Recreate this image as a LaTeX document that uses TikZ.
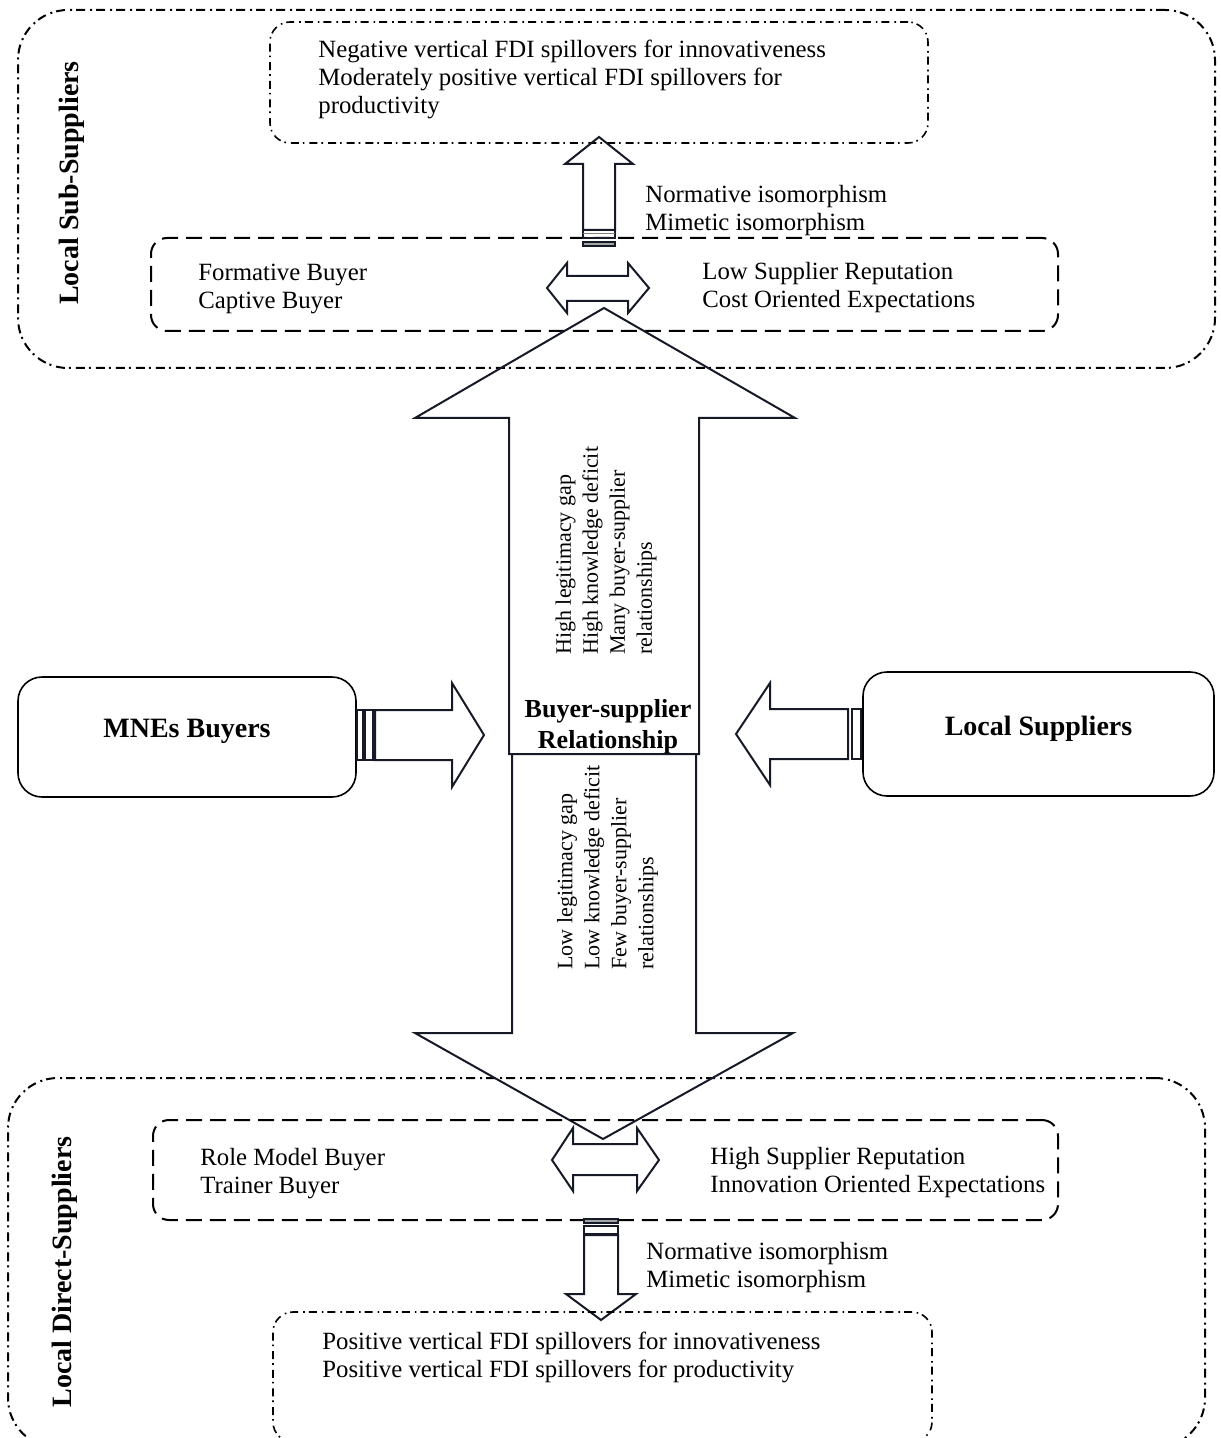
\documentclass[tikz,border=0pt]{standalone}
\usepackage{fontspec}
\setmainfont{Liberation Serif}
\definecolor{arrowline}{RGB}{22,26,38}
\tikzset{
  outerframe/.style={draw, line width=1pt, rounded corners=25pt, dash pattern=on 4.5pt off 2pt on 1pt off 2.5pt, inner sep=0pt},
  resultbox/.style={draw, line width=0.8pt, rounded corners=10pt, dash pattern=on 4pt off 2pt on 0.8pt off 2.5pt, inner sep=0pt},
  midbox/.style={draw, line width=1pt, rounded corners=8pt, dash pattern=on 8pt off 4pt, inner sep=0pt},
  actorbox/.style={draw, line width=0.8pt, rounded corners=12pt, inner sep=0pt, text depth=8.5pt, font=\fontsize{14}{16}\selectfont\bfseries},
  blockline/.style={draw=arrowline, line width=1pt, line join=miter},
  stripe/.style={draw=arrowline, line width=0.6pt},
  bodytext/.style={align=left, inner sep=0pt, anchor=west, font=\fontsize{12.4}{14}\selectfont},
  sidetext/.style={align=left, inner sep=0pt, rotate=90, anchor=west, font=\fontsize{11}{13.5}\selectfont},
  sidetitle/.style={inner sep=0pt, rotate=90, font=\fontsize{14}{16}\selectfont\bfseries},
}
\begin{document}
\begin{tikzpicture}[x=0.5pt,y=-0.5pt]
  \useasboundingbox (0,0) rectangle (1220,1438);
  \pgfmathsetmacro{\splity}{754}
  % frames
  \node[outerframe, minimum width=598.5pt, minimum height=179pt] (subframe) at (616.5,189) {};
  \node[outerframe, minimum width=598.5pt, minimum height=185pt] (directframe) at (606.5,1263) {};
  \node[sidetitle] (subtitle) at (72,183) {Local Sub-Suppliers};
  \node[sidetitle] (directtitle) at (65,1272) {Local Direct-Suppliers};
  % sub-suppliers
  \node[resultbox, minimum width=329pt, minimum height=60.5pt] (subresult) at (599,82.5) {};
  \node[bodytext] (subspill) at (318,79.5) {Negative vertical FDI spillovers for innovativeness\\Moderately positive vertical FDI spillovers for\\productivity};
  \node[midbox, minimum width=453.5pt, minimum height=46.5pt] (submid) at (604.5,284.5) {};
  \node[bodytext] (subbuyer) at (198,288.5) {Formative Buyer\\Captive Buyer};
  \node[bodytext] (subsupplier) at (702,287.5) {Low Supplier Reputation\\Cost Oriented Expectations};
  \node[bodytext] (subiso) at (645,210.5) {Normative isomorphism\\Mimetic isomorphism};
  \draw[blockline] (583,230) -- (583,164) -- (565,164) -- (599,137) -- (633,164) -- (615,164) -- (615,230) -- cycle;
  \draw[stripe] (583,230) rectangle (615,238);
  \draw[stripe, draw=gray] (583,233.5) -- (615,233.5);
  \draw[stripe, fill=gray!70] (583,242) rectangle (615,246);
  \draw[blockline] (547,288) -- (567,263) -- (567,276) -- (628,276) -- (628,263) -- (649,288) -- (628,313) -- (628,301) -- (567,301) -- (567,313) -- cycle;
  % buyers and suppliers
  \node[actorbox, minimum width=169pt, minimum height=60pt] (mne) at (187,737) {MNEs Buyers};
  \node[actorbox, minimum width=175.5pt, minimum height=62pt] (localsup) at (1038.5,734) {Local Suppliers};
  \draw[blockline] (375,710) -- (452,710) -- (452,683) -- (484,735) -- (452,787) -- (452,760) -- (375,760) -- cycle;
  \draw[stripe] (357,710) rectangle (363,760);
  \draw[stripe] (365,710) rectangle (373,760);
  \draw[blockline] (848,709) -- (770,709) -- (770,683) -- (736,734) -- (770,785) -- (770,759) -- (848,759) -- cycle;
  \draw[stripe] (852,709) rectangle (861,759);
  % central arrow
  \draw[blockline] (509,\splity) -- (509,418) -- (415,418) -- (604,308) -- (795,418) -- (699,418) -- (699,\splity) -- cycle;
  \draw[blockline] (512,\splity) -- (512,1033) -- (415,1033) -- (603,1139) -- (793,1033) -- (696,1033) -- (696,\splity);
  \node[font=\fontsize{13}{15.5}\selectfont\bfseries, align=center, inner sep=0pt] (relation) at (608,726.5) {Buyer-supplier\\Relationship};
  \node[sidetext] (highlist) at (606,655) {High legitimacy gap\\High knowledge deficit\\Many buyer-supplier\\relationships};
  \node[sidetext] (lowlist) at (607.5,970) {Low legitimacy gap\\Low knowledge deficit\\Few buyer-supplier\\relationships};
  % direct suppliers
  \node[midbox, minimum width=452.5pt, minimum height=50pt] (directmid) at (605.5,1170) {};
  \node[bodytext] (directbuyer) at (200,1173.5) {Role Model Buyer\\Trainer Buyer};
  \node[bodytext] (directsupplier) at (710,1173) {High Supplier Reputation\\Innovation Oriented Expectations};
  \draw[blockline] (552,1160) -- (573,1128) -- (573,1144) -- (637,1144) -- (637,1128) -- (659,1160) -- (637,1191) -- (637,1175) -- (573,1175) -- (573,1191) -- cycle;
  \draw[stripe, fill=gray!70] (584,1219) rectangle (618,1223);
  \draw[stripe] (584,1226) rectangle (618,1234);
  \draw[blockline] (584,1235) -- (584,1294) -- (566,1294) -- (601,1320) -- (636,1294) -- (618,1294) -- (618,1235) -- cycle;
  \node[bodytext] (directiso) at (646,1267.5) {Normative isomorphism\\Mimetic isomorphism};
  \node[resultbox, minimum width=329.5pt, minimum height=65pt] (directresult) at (602.5,1377) {};
  \node[bodytext] (directspill) at (322,1357.5) {Positive vertical FDI spillovers for innovativeness\\Positive vertical FDI spillovers for productivity};
\end{tikzpicture}
\end{document}
